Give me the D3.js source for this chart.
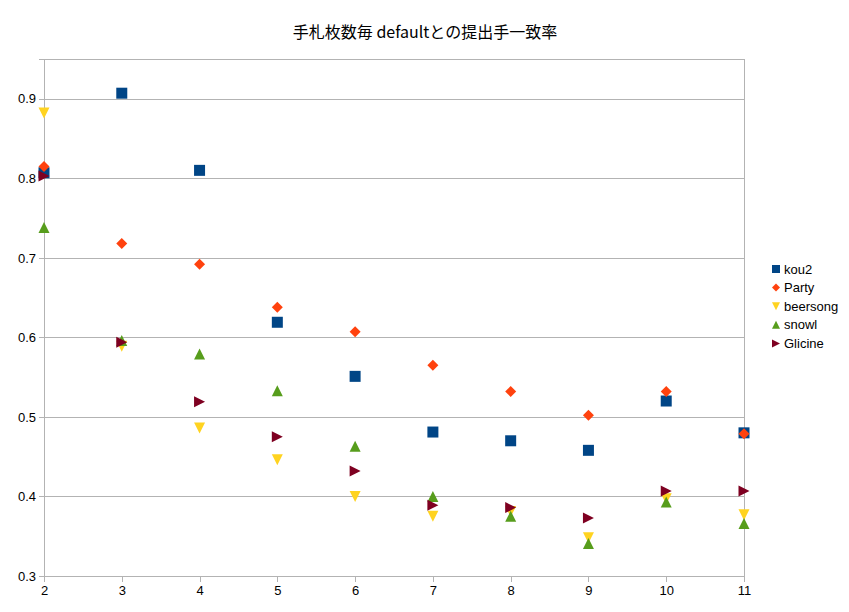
<!DOCTYPE html>
<html lang="ja">
<head>
<meta charset="utf-8">
<title>手札枚数毎 defaultとの提出手一致率</title>
<script src="https://d3js.org/d3.v7.min.js"></script>
<style>
  body { margin: 0; background: #fff; }
  svg text { font-family: "Liberation Sans", "DejaVu Sans", sans-serif; }
  .axis path, .axis line { stroke: #b3b3b3; shape-rendering: crispEdges; }
  .axis text { font-size: 13px; fill: #000; }
  .grid line { stroke: #b3b3b3; shape-rendering: crispEdges; }
</style>
</head>
<body>
<svg id="chart"></svg>
<script>
// hand counts (x)
var handCounts = [2, 3, 4, 5, 6, 7, 8, 9, 10, 11];

// agreement rate with default per player
var kou2     = [0.807, 0.907, 0.810, 0.619, 0.551, 0.481, 0.470, 0.458, 0.520, 0.480];
var party    = [0.815, 0.718, 0.692, 0.638, 0.607, 0.565, 0.532, 0.502, 0.532, 0.479];
var beersong = [0.882, 0.589, 0.486, 0.446, 0.400, 0.375, 0.381, 0.348, 0.397, 0.377];
var snowl    = [0.738, 0.596, 0.579, 0.533, 0.463, 0.400, 0.375, 0.341, 0.393, 0.366];
var glicine  = [0.803, 0.594, 0.519, 0.475, 0.432, 0.389, 0.386, 0.373, 0.407, 0.407];

var seriesNames = ["kou2", "Party", "beersong", "snowl", "Glicine"];
var yTicks = [0.3, 0.4, 0.5, 0.6, 0.7, 0.8, 0.9];

var w = 849, h = 612;
var margin = {left: 44, right: 105, top: 59, bottom: 36};

var colors = ["#004586", "#ff420e", "#ffd320", "#579d1c", "#7e0021"];
var symbols = ["square", "diamond", "down", "up", "right"];

var series = [kou2, party, beersong, snowl, glicine].map(function(vals, i) {
  return {name: seriesNames[i], color: colors[i], symbol: symbols[i],
    values: vals.map(function(v, j) { return {x: handCounts[j], y: v}; })};
});

var svg = d3.select("#chart").attr("width", w).attr("height", h);

var xScale = d3.scaleLinear()
  .domain([2, 11])
  .range([margin.left, w - margin.right]);

var yScale = d3.scaleLinear()
  .domain([0.3, 0.95])
  .range([h - margin.bottom, margin.top]);

// marker paths centred on 0,0
function markerPath(type, s) {
  var r = s / 2;
  if (type == "square") return "M" + (-r) + "," + (-r) + "h" + s + "v" + s + "h" + (-s) + "Z";
  if (type == "diamond") return "M0," + (-r) + "L" + r + ",0L0," + r + "L" + (-r) + ",0Z";
  if (type == "down") return "M" + (-r) + "," + (-r) + "L" + r + "," + (-r) + "L0," + r + "Z";
  if (type == "up") return "M" + (-r) + "," + r + "L" + r + "," + r + "L0," + (-r) + "Z";
  return "M" + (-r) + "," + (-r) + "L" + r + ",0L" + (-r) + "," + r + "Z";
}

// gridlines
svg.append("g")
  .attr("class", "grid")
  .selectAll("line")
  .data(yTicks.slice(1))
  .enter()
  .append("line")
  .attr("x1", margin.left)
  .attr("x2", w - margin.right)
  .attr("y1", d => Math.round(yScale(d)) + 0.5)
  .attr("y2", d => Math.round(yScale(d)) + 0.5);

// plot frame
svg.append("rect")
  .attr("x", margin.left)
  .attr("y", margin.top)
  .attr("width", w - margin.right - margin.left)
  .attr("height", h - margin.bottom - margin.top)
  .attr("fill", "none")
  .attr("stroke", "#b3b3b3")
  .attr("shape-rendering", "crispEdges");

var xAxis = d3.axisBottom(xScale)
  .tickValues(handCounts)
  .tickFormat(d3.format("d"))
  .tickSize(6)
  .tickPadding(4);

var yAxis = d3.axisLeft(yScale)
  .tickValues(yTicks)
  .tickFormat(d3.format(".1f"))
  .tickSize(5)
  .tickPadding(3);

svg.append("g")
  .attr("class", "axis")
  .attr("transform", "translate(0," + (h - margin.bottom) + ")")
  .call(xAxis);

svg.append("g")
  .attr("class", "axis")
  .attr("transform", "translate(" + margin.left + ",0)")
  .call(yAxis);

// points
series.forEach(function(s) {
  svg.append("g")
    .selectAll("path")
    .data(s.values)
    .enter()
    .append("path")
    .attr("d", markerPath(s.symbol, 11))
    .attr("transform", d => "translate(" + xScale(d.x) + "," + yScale(d.y) + ")")
    .attr("fill", s.color);
});

// title
svg.append("text")
  .attr("x", 425)
  .attr("y", 38)
  .attr("text-anchor", "middle")
  .attr("font-size", "16px")
  .style("font-family", "'Noto Sans CJK JP', 'DejaVu Sans', sans-serif")
  .text("手札枚数毎 defaultとの提出手一致率");

// legend
var legend = svg.append("g")
  .attr("transform", "translate(776,269)");

var items = legend.selectAll("g")
  .data(series)
  .enter()
  .append("g")
  .attr("transform", (d, i) => "translate(0," + (i * 18.6) + ")");

items.append("path")
  .attr("d", d => markerPath(d.symbol, 8))
  .attr("fill", d => d.color);

items.append("text")
  .attr("x", 8)
  .attr("y", 4.5)
  .attr("font-size", "13px")
  .attr("fill", "#000")
  .text(d => d.name);
</script>
</body>
</html>
